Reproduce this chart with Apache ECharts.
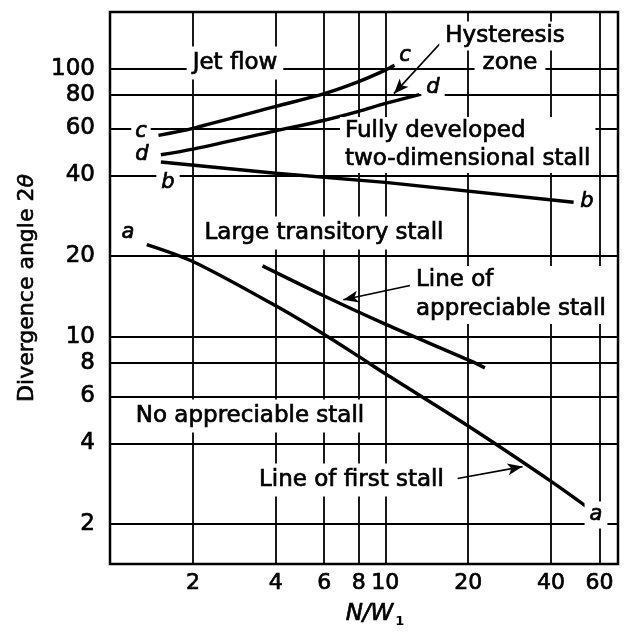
<!DOCTYPE html>
<html>
<head>
<meta charset="utf-8">
<script src="https://cdn.jsdelivr.net/npm/echarts@6/dist/echarts.min.js"></script>
<style>
  html, body { margin: 0; padding: 0; background: #fff; }
  #chart { width: 632px; height: 639px; }
</style>
</head>
<body>
<div id="chart"></div>
<script>
// Flow regimes of straight-walled two-dimensional diffusers:
// divergence angle 2θ against length ratio N/W1 (log-log).

const xTicks = [2, 4, 6, 8, 10, 20, 40, 60];
const yTicks = [2, 4, 6, 8, 10, 20, 40, 60, 80, 100];

// a–a : line of first stall
const curveAx = [1.36, 2, 4, 6, 8, 10, 20, 40, 54.3];
const curveAy = [22.1, 19.1, 13.05, 10.2, 8.45, 7.28, 4.65, 2.89, 2.31];

// b–b
const curveBx = [1.53, 4, 10, 48.3];
const curveBy = [44.9, 40.8, 37.7, 31.8];

// c–c
const curveCx = [1.5, 2, 4, 6, 8, 10, 10.8];
const curveCy = [56.5, 60.0, 72.4, 80.8, 89.6, 98.9, 103.1];

// d–d
const curveDx = [1.53, 2, 4, 6, 8, 10, 13.3];
const curveDy = [47.8, 50.2, 58.7, 64.3, 69.4, 74.3, 80.2];

// line of appreciable stall
const apprX = [3.58, 6, 10, 20, 23];
const apprY = [18.4, 14.2, 11.15, 8.2, 7.66];

// leader arrows [tail, head] in data units
const hysteresisArrow = [[16.15, 127.3], [10.75, 80.8]];
const appreciableArrow = [[12.29, 15.55], [7.04, 13.75]];
const firstStallArrow = [[18.3, 2.96], [31.5, 3.28]];

const FONT = '"DejaVu Sans", "Liberation Sans", sans-serif';

function pairs(xs, ys) {
  return xs.map((x, i) => [x, ys[i]]);
}

function arrowMark(arrow) {
  return {
    silent: true,
    symbol: ['none', 'arrow'],
    symbolSize: [9, 15],
    lineStyle: { color: '#000', width: 1.7, type: 'solid' },
    label: { show: false },
    emphasis: { disabled: true },
    animation: false,
    data: [[{ coord: arrow[0] }, { coord: arrow[1] }]]
  };
}

function curve(name, xs, ys, smooth, arrow) {
  const s = {
    type: 'line',
    name: name,
    data: pairs(xs, ys),
    symbol: 'none',
    smooth: smooth,
    lineStyle: { color: '#000', width: 3.4 },
    emphasis: { disabled: true },
    z: 5
  };
  if (arrow) s.markLine = arrowMark(arrow);
  return s;
}

function note(x, y, text, extra) {
  return {
    type: 'text',
    x: x,
    y: y,
    z: 100,
    silent: true,
    style: Object.assign({
      text: text,
      font: '23px ' + FONT,
      fill: '#000',
      stroke: '#000',
      lineWidth: 0.7,
      align: 'center',
      verticalAlign: 'middle',
      backgroundColor: '#fff',
      padding: [4, 6]
    }, extra || {})
  };
}

function letter(x, y, ch, pad) {
  return note(x, y, ch, {
    font: 'italic 21px ' + FONT,
    padding: pad
  });
}

const tickText = {
  color: '#000',
  fontFamily: FONT,
  textBorderColor: '#000',
  textBorderWidth: 0.7
};

const chart = echarts.init(document.getElementById('chart'), null, { renderer: 'canvas' });

chart.setOption({
  animation: false,
  backgroundColor: '#fff',
  grid: {
    left: 110, right: 14, top: 12, bottom: 75,
    show: true,
    borderColor: '#000',
    borderWidth: 2.5,
    backgroundColor: 'transparent'
  },
  xAxis: {
    type: 'log',
    logBase: 10,
    min: 1,
    max: 70,
    name: '{i|N/W}{s|1}',
    nameLocation: 'middle',
    nameGap: 36,
    nameTextStyle: {
      padding: [0, 0, 0, 22],
      rich: {
        i: { fontFamily: FONT, fontStyle: 'italic', fontSize: 23, color: '#000', lineHeight: 28,
             textBorderColor: '#000', textBorderWidth: 0.7 },
        s: { fontFamily: FONT, fontWeight: 'bold', fontSize: 13, color: '#000', verticalAlign: 'bottom',
             lineHeight: 28, padding: [0, 0, 0, 2] }
      }
    },
    axisLine: { show: false },
    axisTick: { show: false, customValues: xTicks },
    axisLabel: Object.assign({
      customValues: xTicks,
      margin: 8,
      fontSize: 22,
      formatter: v => String(v)
    }, tickText),
    splitLine: { show: true, lineStyle: { color: '#000', width: 1.8 } }
  },
  yAxis: {
    type: 'log',
    logBase: 10,
    min: 1.42,
    max: 163,
    name: 'Divergence angle 2{t|θ}',
    nameLocation: 'middle',
    nameRotate: 90,
    nameGap: 72,
    nameTextStyle: {
      fontFamily: FONT,
      fontSize: 22,
      color: '#000',
      textBorderColor: '#000',
      textBorderWidth: 0.6,
      rich: {
        t: { fontFamily: FONT, fontStyle: 'italic', fontSize: 22, color: '#000',
             textBorderColor: '#000', textBorderWidth: 0.6 }
      }
    },
    axisLine: { show: false },
    axisTick: { show: false, customValues: yTicks },
    axisLabel: Object.assign({
      customValues: yTicks,
      margin: 15,
      fontSize: 23,
      formatter: v => String(v)
    }, tickText),
    splitLine: { show: true, lineStyle: { color: '#000', width: 1.8 } }
  },
  series: [
    curve('a', curveAx, curveAy, 0.3, firstStallArrow),
    curve('b', curveBx, curveBy, false, null),
    curve('c', curveCx, curveCy, 0.3, hysteresisArrow),
    curve('d', curveDx, curveDy, 0.3, null),
    curve('appreciable', apprX, apprY, 0.3, appreciableArrow)
  ],
  graphic: [
    note(235, 63, 'Jet flow', { padding: [5, 6] }),
    note(505, 36, 'Hysteresis', { padding: [3, 6] }),
    note(510, 63, 'zone', { padding: [1, 8] }),
    note(340, 117, 'Fully developed\ntwo-dimensional stall', {
      align: 'left', verticalAlign: 'top', lineHeight: 28, padding: [0, 5, 0, 5]
    }),
    note(324, 233, 'Large transitory stall', { padding: [5, 6] }),
    note(412, 266, 'Line of\nappreciable stall', {
      align: 'left', verticalAlign: 'top', lineHeight: 29, padding: [0, 4, 0, 4]
    }),
    note(250, 416, 'No appreciable stall', { padding: [5, 6] }),
    note(254, 480, 'Line of first stall', { align: 'left', padding: [5, 5] }),

    letter(141, 132, 'c', [0, 4]),
    letter(142, 155, 'd', [0, 2]),
    letter(168, 183, 'b', [0, 5]),
    letter(128, 233, 'a', [0, 2]),
    letter(405, 56, 'c', [0, 4]),
    letter(433, 88, 'd', [0, 5]),
    letter(587, 202, 'b', [0, 0]),
    letter(596, 515, 'a', [3, 5])
  ]
});
</script>
</body>
</html>
